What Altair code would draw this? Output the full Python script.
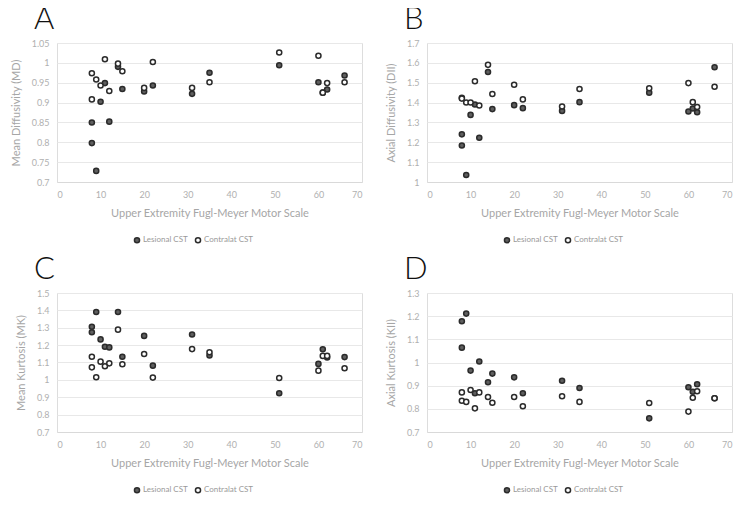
import altair as alt
import pandas as pd

fm = [8, 8, 9, 10, 11, 12, 14, 15, 20, 22, 31, 35, 51, 60, 61, 62, 66]
series_names = ["Lesional CST", "Contralat CST"]

md_les = [0.850, 0.798, 0.728, 0.902, 0.949, 0.852, 0.990, 0.934, 0.928, 0.943, 0.922, 0.975, 0.994, 0.951, 0.925, 0.933, 0.968]
md_con = [0.974, 0.908, 0.958, 0.943, 1.009, 0.929, 0.998, 0.979, 0.937, 1.002, 0.937, 0.951, 1.026, 1.018, 0.925, 0.949, 0.951]

ad_les = [1.240, 1.184, 1.035, 1.338, 1.390, 1.223, 1.554, 1.367, 1.387, 1.372, 1.358, 1.402, 1.450, 1.355, 1.370, 1.351, 1.578]
ad_con = [1.424, 1.420, 1.400, 1.400, 1.507, 1.385, 1.590, 1.443, 1.490, 1.416, 1.380, 1.468, 1.472, 1.498, 1.402, 1.378, 1.480]

mk_les = [1.306, 1.274, 1.391, 1.233, 1.191, 1.187, 1.391, 1.133, 1.253, 1.082, 1.261, 1.140, 0.923, 1.092, 1.176, 1.129, 1.131]
mk_con = [1.133, 1.072, 1.015, 1.105, 1.078, 1.095, 1.289, 1.090, 1.149, 1.013, 1.177, 1.159, 1.011, 1.053, 1.138, 1.138, 1.067]

ak_les = [1.178, 1.064, 1.211, 0.965, 0.867, 1.004, 0.915, 0.952, 0.936, 0.867, 0.921, 0.890, 0.759, 0.893, 0.874, 0.906, 0.846]
ak_con = [0.871, 0.835, 0.830, 0.881, 0.802, 0.871, 0.851, 0.826, 0.851, 0.811, 0.854, 0.830, 0.825, 0.788, 0.848, 0.876, 0.846]

x_ticks = [0, 10, 20, 30, 40, 50, 60, 70]
md_ticks = [0.7, 0.75, 0.8, 0.85, 0.9, 0.95, 1.0, 1.05]
ad_ticks = [1.0, 1.1, 1.2, 1.3, 1.4, 1.5, 1.6, 1.7]
mk_ticks = [0.7, 0.8, 0.9, 1.0, 1.1, 1.2, 1.3, 1.4, 1.5]
ak_ticks = [0.7, 0.8, 0.9, 1.0, 1.1, 1.2, 1.3]

FONT = "Lato"


def panel(letter, ytitle, les, con, yticks):
    df = pd.DataFrame({
        "fm": fm + fm,
        "val": les + con,
        "series": [series_names[0]] * len(fm) + [series_names[1]] * len(fm),
    })
    pts = alt.Chart(df).mark_circle(size=26, stroke="#2b2b2b", strokeWidth=1.5, opacity=1).encode(
        x=alt.X("fm:Q", scale=alt.Scale(domain=[0, 70], nice=False),
                axis=alt.Axis(values=x_ticks, title="Upper Extremity Fugl-Meyer Motor Scale",
                              grid=False, ticks=False, tickSize=0, labelPadding=8,
                              domainColor="#d9d9d9", labelColor="#b0b0b0", labelFontSize=9,
                              labelFont=FONT, titleFont=FONT, titleFontSize=11,
                              titleFontWeight="normal", titleColor="#a6a6a6", titlePadding=8)),
        y=alt.Y("val:Q", scale=alt.Scale(domain=[yticks[0], yticks[-1]], nice=False, zero=False),
                axis=alt.Axis(values=yticks, format=".2~f", title=ytitle, grid=True,
                              gridColor="#e8e8e8", domain=False, ticks=False, tickSize=0,
                              labelPadding=8, labelColor="#b0b0b0", labelFontSize=9,
                              labelFont=FONT, titleFont=FONT, titleFontSize=11,
                              titleFontWeight="normal", titleColor="#a6a6a6", titlePadding=10)),
        fill=alt.Fill("series:N", scale=alt.Scale(domain=series_names, range=["#5f5f5f", "#ffffff"]),
                      legend=alt.Legend(title=None, orient="none", direction="horizontal",
                                        legendX=76, legendY=193, symbolType="circle",
                                        symbolSize=26, symbolStrokeColor="#2b2b2b",
                                        symbolStrokeWidth=1.5, labelFontSize=8, labelFont=FONT,
                                        labelColor="#999999", labelOffset=2, columnPadding=4)),
    )
    lab = alt.Chart(pd.DataFrame({"t": [letter]})).mark_text(
        align="left", baseline="alphabetic", fontSize=31, font=FONT, fontWeight=300, color="#111111"
    ).encode(text="t:N", x=alt.value(-23), y=alt.value(-14))
    return alt.layer(pts, lab).properties(width=305, height=139)


A = panel("A", "Mean Diffusivity (MD)", md_les, md_con, md_ticks)
B = panel("B", "Axial Diffusivity (DII)", ad_les, ad_con, ad_ticks)
C = panel("C", "Mean Kurtosis (MK)", mk_les, mk_con, mk_ticks)
D = panel("D", "Axial Kurtosis (KII)", ak_les, ak_con, ak_ticks)

chart = alt.concat(A, B, C, D, columns=2, spacing={"row": 111, "column": 65}, bounds="flush").resolve_scale(
    x="independent", y="independent", fill="independent"
).resolve_legend(fill="independent").properties(
    padding={"left": 1, "top": -5, "right": 5, "bottom": 5}
).configure_view(strokeWidth=0).configure(background="white")

chart.save("out.html", embed_options={"renderer": "svg", "actions": False})
